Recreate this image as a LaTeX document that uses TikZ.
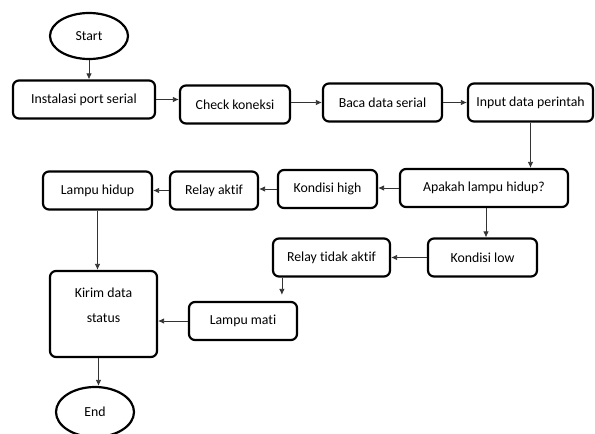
\documentclass[tikz,border=0pt]{standalone}
\usepackage{fontspec}
\setmainfont{Carlito}[Ligatures=NoCommon]
\usetikzlibrary{shapes.geometric,arrows.meta}

\begin{document}
\begin{tikzpicture}[x=1pt,y=-1pt,
	font=\fontsize{13.8}{16}\selectfont,
	>={Latex[length=6pt,width=5.5pt]},
	box/.style={draw,line width=2.2pt,rounded corners=6pt,minimum height=38pt,inner sep=2pt},
	terminal/.style={draw,ellipse,line width=2.2pt,inner sep=0pt},
	link/.style={->,line width=0.8pt,black!80}]
	\useasboundingbox (0,0) rectangle (595,434);
	\node [terminal,minimum width=78pt,minimum height=46pt] (start) at (89,36) {Start};
	\foreach \n/\x/\y/\w/\txt in {inst/84/99.5/142/Instalasi port serial,
		check/235/104.5/110/Check koneksi,
		baca/382.5/102.5/119/Baca data serial,
		input/530.5/102.5/125/Input data perintah,
		apakah/484/188/168/Apakah lampu hidup?,
		khigh/327.5/189/99/Kondisi high,
		raktif/214/190.5/88/Relay aktif,
		lhidup/97.5/190.5/109/Lampu hidup,
		klow/482.5/257.5/109/Kondisi low,
		rtidak/331.5/257.5/117/Relay tidak aktif,
		lmati/243/321/108/Lampu mati}
		\node [box,minimum width=\w pt] (\n) at (\x,\y) {\txt};
	\node [box,minimum width=107pt,minimum height=86pt,
		label={[align=center,yshift=8.5pt]center:{Kirim data\\[9pt]status}}] (kirim) at (103.5,314) {};
	\node [terminal,minimum width=78pt,minimum height=50pt] (stop) at (95,412) {End};
	% top row
	\draw [link] (start) -- (start |- inst.north);
	\draw [link] (inst.east) -- (inst.east -| check.west);
	\draw [link] (baca.west -| check.east) -- (baca.west);
	\draw [link] (baca.east) -- (input.west);
	\draw [link] (input) -- (input |- apakah.north);
	% lamp on
	\draw [link] (apakah.west) -- (apakah.west -| khigh.east);
	\draw [link] (khigh.west) -- (khigh.west -| raktif.east);
	\draw [link] (raktif.west) -- (raktif.west -| lhidup.east);
	\draw [link] (lhidup) -- (lhidup |- kirim.north);
	% lamp off
	\draw [link] ([xshift=2pt]apakah.south) -- ([xshift=2pt]apakah.south |- klow.north);
	\draw [link] (klow.west) -- (klow.west -| rtidak.east);
	\coordinate (rt-out) at ([xshift=10pt]rtidak.south west);
	\draw [link,shorten >=6pt] (rt-out) -- (rt-out |- lmati.north);
	\draw [link] (lmati.west) -- (lmati.west -| kirim.east);
	\draw [link] ([xshift=-5pt]kirim.south) -- ([xshift=-5pt]kirim.south |- stop.north);
\end{tikzpicture}
\end{document}
